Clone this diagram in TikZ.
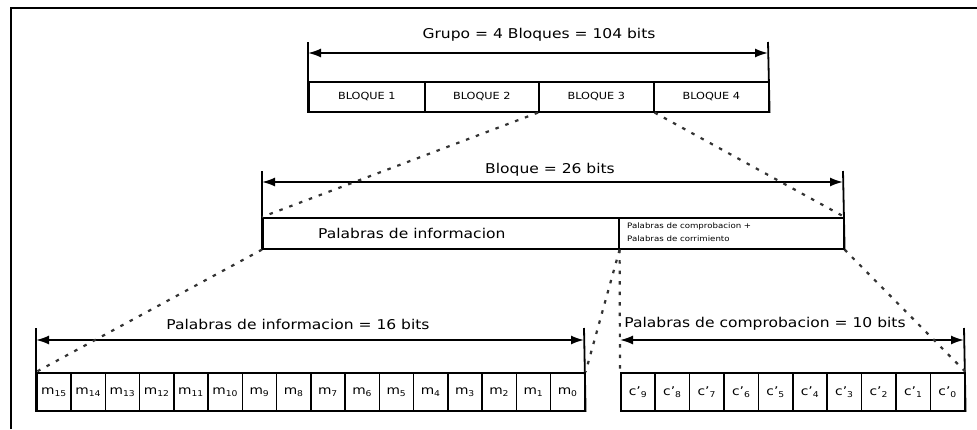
\documentclass[tikz,border=0pt]{standalone}
\usepackage{fontspec}
\setmainfont[FakeStretch=1.15]{DejaVu Sans}
\usetikzlibrary{arrows.meta}
\begin{document}
\begin{tikzpicture}[x=1pt,y=-1pt,
  frame/.style={line width=1.6pt},
  bar/.style={line width=1.8pt},
  dimarrow/.style={line width=1.8pt,{Latex[length=13pt,width=9pt]}-{Latex[length=13pt,width=9pt]}},
  blk/.style={draw,line width=1.6pt,rectangle,inner sep=0pt,anchor=north west,minimum height=30pt,font=\fontsize{9.8}{11}\selectfont},
  midbox/.style={draw,line width=1.6pt,rectangle,inner sep=0pt,anchor=north west,minimum height=31pt},
  cell/.style={draw,line width=1.6pt,rectangle,inner sep=0pt,anchor=north west,minimum height=38pt,font=\fontsize{12}{13}\selectfont},
  lbl/.style={font=\fontsize{13.5}{15}\selectfont,inner sep=0pt},
  dotline/.style={line width=2.2pt,black!80,dash pattern=on 3.5pt off 7pt}
]
\useasboundingbox (0,0) rectangle (977,429);
% frame
\coordinate (fA) at (11,429);
\coordinate (fB) at (11,8);
\coordinate (fC) at (977,8);
\draw[frame] (fA) -- (fB) -- (fC);

% ---- top level: group
\node[blk,minimum width=116pt] (b1) at (308,81) {BLOQUE 1};
\node[blk,minimum width=114pt] (b2) at (424,81) {BLOQUE 2};
\node[blk,minimum width=115pt] (b3) at (538,81) {BLOQUE 3};
\node[blk,minimum width=115pt] (b4) at (653,81) {BLOQUE 4};
\coordinate (gTL) at (308,42);
\coordinate (gTR) at (768,42);
\coordinate (gAL) at (308,53);
\coordinate (gAR) at (768,53);
\draw[bar] (gTL) -- (b1.south west);
\draw[bar] (gTR) -- (b4.south east);
\draw[dimarrow] (gAL) -- (gAR);
\node[lbl] (gl) at (539,35) {Grupo = 4 Bloques = 104 bits};

% ---- middle level: block
\node[midbox,minimum width=356pt] (m1) at (262,217) {};
\node[midbox,minimum width=225pt] (m2) at (618,217) {};
\node[lbl,anchor=west] (m1t) at (318,233) {Palabras de informacion};
\node[font=\fontsize{7.5}{12.5}\selectfont,anchor=north west,inner sep=0pt,align=left] (m2t) at (627,223) {Palabras de comprobacion +\\Palabras de corrimiento};
\coordinate (mTL) at (262,171);
\coordinate (mTR) at (843,171);
\coordinate (mAL) at (262,182);
\coordinate (mAR) at (843,182);
\draw[bar] (mTL) -- (m1.south west);
\draw[bar] (mTR) -- (m2.south east);
\draw[dimarrow] (mAL) -- (mAR);
\node[lbl] (ml) at (550,170) {Bloque = 26 bits};

% ---- bottom level: information words
\foreach \i [evaluate=\i as \x using 36+34.25*\i, evaluate=\i as \n using int(15-\i)] in {0,...,15} {
  \node[cell,minimum width=34.25pt] (L\i) at (\x,372) {m\textsubscript{\n}};
}
\coordinate (iTL) at (36,328);
\coordinate (iTR) at (584,328);
\coordinate (iAL) at (36,340);
\coordinate (iAR) at (584,340);
\draw[bar] (iTL) -- (L0.south west);
\draw[bar] (iTR) -- (L15.south east);
\draw[dimarrow] (iAL) -- (iAR);
\node[lbl] (il) at (298,324) {Palabras de informacion = 16 bits};

% ---- bottom level: check words
\foreach \i [evaluate=\i as \x using 620+34.4*\i, evaluate=\i as \n using int(9-\i)] in {0,...,9} {
  \node[cell,minimum width=34.4pt] (R\i) at (\x,372) {c'\textsubscript{\n}};
}
\coordinate (cTR) at (964,328);
\coordinate (cAL) at (620,340);
\coordinate (cAR) at (964,340);
\draw[bar] (cTR) -- (R9.south east);
\draw[dimarrow] (cAL) -- (cAR);
\node[lbl] (cl) at (765,324) {Palabras de comprobacion = 10 bits};

% ---- dotted expansion lines
\draw[dotline] (b3.south west) -- (m1.north west);
\draw[dotline] (b3.south east) -- (m2.north east);
\draw[dotline] (m1.south west) -- (L0.north west);
\draw[dotline] (m1.south east) -- (L15.north east);
\draw[dotline] (m1.south east) -- (R0.north west);
\draw[dotline] (m2.south east) -- (R9.north east);
\end{tikzpicture}
\end{document}
